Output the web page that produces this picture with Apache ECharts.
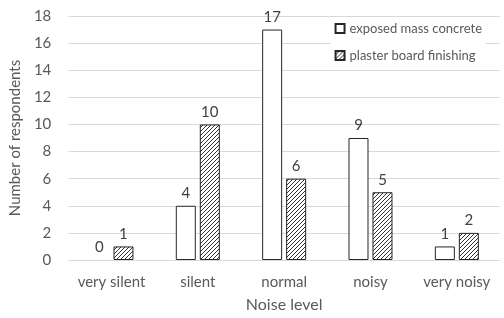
<!DOCTYPE html>
<html><head><meta charset="utf-8">
<script src="https://cdn.jsdelivr.net/npm/echarts@6/dist/echarts.min.js"></script>
<style>html,body{margin:0;padding:0;background:#fff}#c{width:504px;height:318px}</style>
</head><body><div id="c"></div>
<script>
const categories = ['very silent','silent','normal','noisy','very noisy'];
const exposedConcrete = [0,4,17,9,1];
const plasterBoard = [1,10,6,5,2];
const seriesNames = ['exposed mass concrete','plaster board finishing'];

function hatch(){
  const c = document.createElement('canvas');
  c.width = 4; c.height = 4;
  const g = c.getContext('2d');
  g.fillStyle = '#fff'; g.fillRect(0,0,4,4);
  g.strokeStyle = '#333'; g.lineWidth = 1;
  g.beginPath();
  g.moveTo(0,4); g.lineTo(4,0);
  g.moveTo(-1,1); g.lineTo(1,-1);
  g.moveTo(3,5); g.lineTo(5,3);
  g.stroke();
  return c;
}
function toData(arr){
  return arr.map(v => v === 0 ? {value:v,itemStyle:{borderColor:'transparent'}} : v);
}
const font = 'Lato';
const chart = echarts.init(document.getElementById('c'));
chart.setOption({
  animation:false,
  textStyle:{fontFamily:font},
  grid:{left:61,right:4,top:16,bottom:55,containLabel:false},
  legend:{
    orient:'vertical', right:18, top:19, itemGap:14, itemWidth:9, itemHeight:9,
    icon:'rect',
    textStyle:{color:'#595959',fontSize:13,fontFamily:font},
    backgroundColor:'#fff', padding:[3,4]
  },
  xAxis:{
    type:'category', data:categories,
    axisLine:{show:true,lineStyle:{color:'#d9d9d9'}}, axisTick:{show:false},
    axisLabel:{color:'#595959',fontSize:15,margin:15,interval:0,hideOverlap:false},
    name:'Noise level', nameLocation:'middle', nameGap:37,
    nameTextStyle:{color:'#595959',fontSize:16}
  },
  yAxis:{
    type:'value', min:0, max:18, interval:2,
    axisLine:{show:false}, axisTick:{show:false},
    splitLine:{lineStyle:{color:'#d9d9d9'}},
    axisLabel:{color:'#595959',fontSize:15,margin:17},
    name:'Number of respondents', nameLocation:'middle', nameGap:37,
    nameTextStyle:{color:'#595959',fontSize:15}
  },
  series:[
    {name:seriesNames[0], type:'bar', data:toData(exposedConcrete), barWidth:20, barGap:'20%',
     itemStyle:{color:'#fff',borderColor:'#262626',borderWidth:1},
     label:{show:true,position:'top',color:'#404040',fontSize:15,distance:5}},
    {name:seriesNames[1], type:'bar', data:toData(plasterBoard), barWidth:20,
     itemStyle:{color:{image:hatch(),repeat:'repeat'},borderColor:'#262626',borderWidth:1},
     label:{show:true,position:'top',color:'#404040',fontSize:15,distance:5}}
  ]
});
</script></body></html>
